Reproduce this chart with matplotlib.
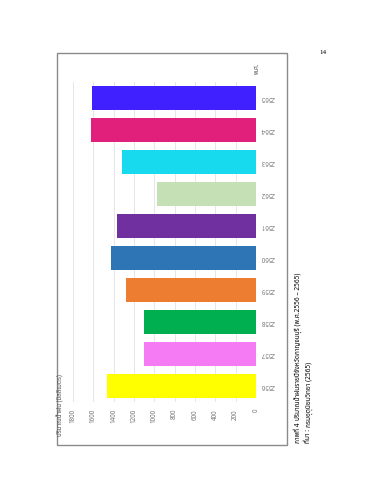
import matplotlib.pyplot as plt
from matplotlib.patches import Rectangle

plt.rcParams['font.family'] = ['Noto Sans Thai', 'Noto Sans', 'DejaVu Sans']

years = ['2556', '2557', '2558', '2559', '2560', '2561', '2562', '2563', '2564', '2565']
rain = [1469, 1102, 1102, 1275, 1430, 1370, 977, 1321, 1626, 1616]
colors = ['#FFFF00', '#F57BF5', '#00B050', '#ED7D31', '#2E75B6',
          '#7030A0', '#C5E0B4', '#17DAEF', '#E0207A', '#4020FF']
ticks = [0, 200, 400, 600, 800, 1000, 1200, 1400, 1600, 1800]

fig = plt.figure(figsize=(3.7, 4.8), dpi=100)
fig.patch.set_facecolor('white')

# frame of the chart (page is turned sideways)
fig.patches.append(Rectangle((57/370, 35/480), 230/370, 392/480, transform=fig.transFigure,
                             fill=False, edgecolor='#8a8a8a', linewidth=1.0))

ax = fig.add_axes([73/370, 78/480, 183/370, 320/480])
ax.barh(range(len(years)), rain, height=0.72, color=colors)
ax.set_xlim(1800, 0)
ax.set_ylim(-0.5, 9.5)
ax.set_xticks(ticks)
ax.set_xticklabels([str(t) for t in ticks], rotation=90, fontsize=4.5, color='#777777')
ax.set_yticks(range(len(years)))
ax.set_yticklabels([])
for i, y in enumerate(years):
    ax.text(-115, i, y, rotation=180, fontsize=4.5, color='#777777', ha='center', va='center')
ax.grid(axis='x', color='#e2e2e2', linewidth=0.6)
ax.set_axisbelow(True)
ax.tick_params(length=0, pad=5)
for s in ax.spines.values():
    s.set_visible(False)

fig.text(61/370, 1 - 405/480, 'ปริมาณน้ำฝน (มิลลิเมตร)', rotation=90, fontsize=4.5,
         color='#555555', ha='center', va='center')
fig.text(257/370, 1 - 68/480, 'พ.ศ.', rotation=90, fontsize=4.5, color='#555555',
         ha='center', va='center')

# caption: bold lead + normal text, placed one after the other (rotated)
r = fig.canvas.get_renderer()
for xpix, lead, rest in [(299, 'ภาพที่ 4', 'ปริมาณน้ำฝนรายปีจังหวัดกาญจนบุรี (พ.ศ.2556 – 2565)'),
                         (309, 'ที่มา :', 'กรมอุตุนิยมวิทยา (2565)')]:
    t = fig.text(xpix/370, 1 - 443/480, lead, rotation=90, fontsize=4.7, fontweight='bold',
                 ha='center', va='bottom')
    h = t.get_window_extent(r).height
    fig.text(xpix/370, 1 - (443 - h - 2)/480, rest, rotation=90, fontsize=4.7,
             ha='center', va='bottom')

fig.text(323/370, 1 - 52/480, '14', fontsize=5, family='Liberation Serif',
         ha='center', va='center')

fig.savefig('out.png', dpi=100)
